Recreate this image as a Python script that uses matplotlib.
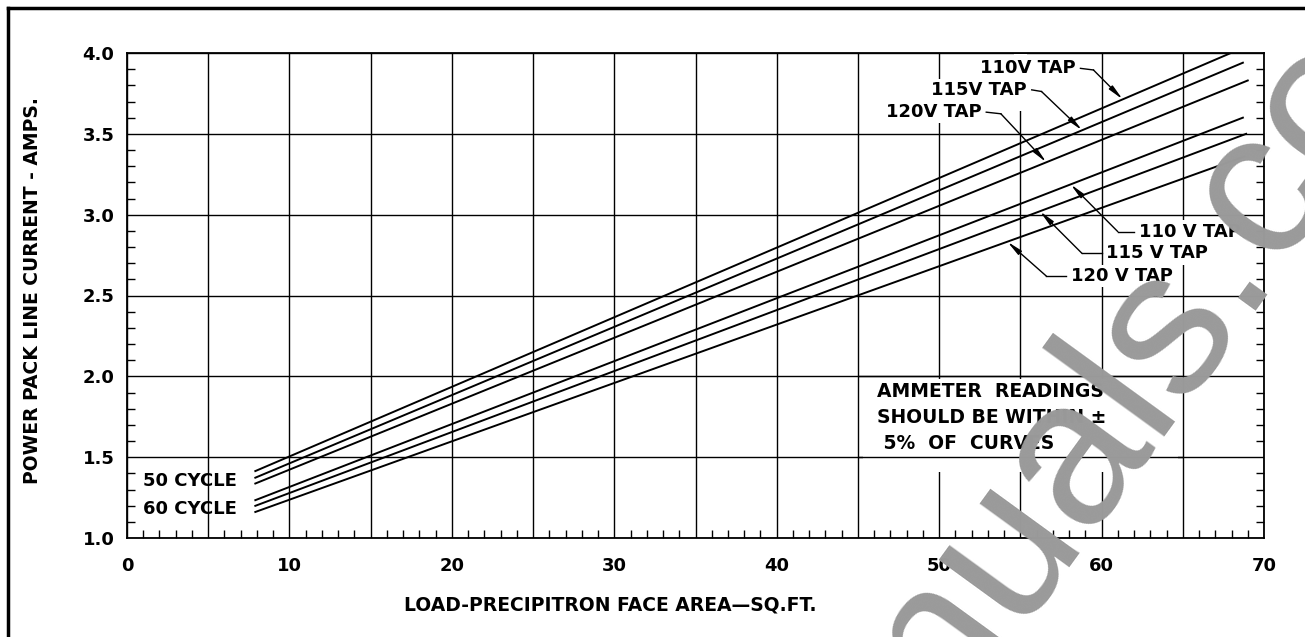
import numpy as np
import matplotlib
matplotlib.use('Agg')
import matplotlib.pyplot as plt
from matplotlib.ticker import MultipleLocator, FuncFormatter
from matplotlib.patches import Rectangle
from matplotlib.lines import Line2D

plt.rcParams['font.family'] = 'DejaVu Sans'
plt.rcParams['font.weight'] = 'bold'

# curve end points (face area sq.ft, amps)
x_start = [7.9, 7.9, 7.9]
x_end_50 = [68.1, 68.7, 69.0]
y_start_50 = [1.414, 1.373, 1.337]
y_end_50 = [4.006, 3.94, 3.83]
x_end_60 = [68.7, 68.9, 68.8]
y_start_60 = [1.234, 1.199, 1.161]
y_end_60 = [3.60, 3.50, 3.36]

taps_top = ['110V TAP', '115V TAP', '120V TAP']
taps_low = ['110 V TAP', '115 V TAP', '120 V TAP']

# label anchors (x of text end, y) and leader hit points on curves
top_text_x = [58.4, 55.4, 52.6]
top_text_y = [3.905, 3.772, 3.634]
top_elbow_x = [59.5, 56.3, 53.8]
top_hit_x = [61.3, 58.8, 56.6]

low_text_x = [62.3, 60.3, 58.1]
low_text_y = [2.895, 2.76, 2.62]
low_elbow_x = [61.0, 58.8, 56.6]
low_hit_x = [58.1, 56.2, 54.2]


def line_y(x, x0, y0, x1, y1):
    return y0 + (y1 - y0) * (x - x0) / (x1 - x0)


fig = plt.figure(figsize=(13.05, 6.37), dpi=100)
W, H = 1305, 637
ax = fig.add_axes([127 / W, 1 - 538 / H, (1264 - 127) / W, (538 - 53) / H])
ax.set_xlim(0, 70)
ax.set_ylim(1.0, 4.0)

ax.xaxis.set_major_locator(MultipleLocator(5))
ax.xaxis.set_minor_locator(MultipleLocator(1))
ax.yaxis.set_major_locator(MultipleLocator(0.5))
ax.yaxis.set_minor_locator(MultipleLocator(0.1))
ax.xaxis.set_major_formatter(FuncFormatter(lambda v, p: '%d' % v if round(v) % 10 == 0 else ''))
ax.yaxis.set_major_formatter(FuncFormatter(lambda v, p: '%.1f' % v))
ax.tick_params(which='major', length=0, labelsize=13)
ax.tick_params(axis='x', which='major', pad=14)
ax.tick_params(axis='y', which='major', pad=9)
ax.tick_params(which='minor', direction='in', length=6, width=1.0,
               left=True, right=True, bottom=True, top=False)
ax.grid(which='major', color='black', lw=1.0)
ax.set_axisbelow(True)
for s in ax.spines.values():
    s.set_linewidth(1.3)

# note box, covering the grid
ax.add_patch(Rectangle((45.3, 1.41), 19.4, 0.575, facecolor='white',
                       edgecolor='none', zorder=1))
ax.hlines([1.5, 2.0], 45, 65, colors='black', lw=1.0, zorder=2)
ax.text(46.2, 1.745, 'AMMETER  READINGS\nSHOULD BE WITHIN \u00b1\n 5%  OF  CURVES',
        fontsize=13.5, va='center', ha='left', linespacing=1.45, zorder=3)
# the 55 grid line is left out above the 120V label in the original
ax.add_patch(Rectangle((54.6, 3.64), 0.8, 0.355, facecolor='white',
                       edgecolor='none', zorder=1))

for i in range(3):
    ax.plot([x_start[i], x_end_50[i]], [y_start_50[i], y_end_50[i]], color='black', lw=1.4, zorder=4)
    ax.plot([x_start[i], x_end_60[i]], [y_start_60[i], y_end_60[i]], color='black', lw=1.4, zorder=4)

ax.text(1.0, 1.35, '50 CYCLE', fontsize=13, va='center', ha='left', zorder=5)
ax.text(1.0, 1.18, '60 CYCLE', fontsize=13, va='center', ha='left', zorder=5)

bb = dict(facecolor='white', edgecolor='none', pad=1.5)
arrow = dict(arrowstyle='-|>,head_length=0.9,head_width=0.15', color='black',
             lw=1.0, shrinkA=0, shrinkB=0)
for i in range(3):
    ax.text(top_text_x[i], top_text_y[i], taps_top[i], fontsize=13, ha='right',
            va='center', bbox=bb, zorder=6)
    hy = line_y(top_hit_x[i], x_start[i], y_start_50[i], x_end_50[i], y_end_50[i])
    ax.plot([top_text_x[i] + 0.3, top_elbow_x[i]], [top_text_y[i], top_text_y[i] - 0.01],
            color='black', lw=1.0, zorder=6)
    ax.annotate('', xy=(top_hit_x[i], hy), xytext=(top_elbow_x[i], top_text_y[i] - 0.01),
                arrowprops=arrow, zorder=6)

    ax.text(low_text_x[i], low_text_y[i], taps_low[i], fontsize=13, ha='left',
            va='center', bbox=bb, zorder=6)
    hy = line_y(low_hit_x[i], x_start[i], y_start_60[i], x_end_60[i], y_end_60[i])
    ax.plot([low_text_x[i] - 0.3, low_elbow_x[i]], [low_text_y[i], low_text_y[i]],
            color='black', lw=1.0, zorder=6)
    ax.annotate('', xy=(low_hit_x[i], hy), xytext=(low_elbow_x[i], low_text_y[i]),
                arrowprops=arrow, zorder=6)

fig.text(610 / W, 1 - 605 / H, 'LOAD-PRECIPITRON FACE AREA\u2014SQ.FT.', fontsize=13.5,
         ha='center', va='center')
fig.text(33 / W, 1 - 291 / H, 'POWER PACK LINE CURRENT - AMPS.', fontsize=13.5,
         ha='center', va='center', rotation=90)

# page frame
fig.add_artist(Line2D([8 / W, 8 / W], [0, 1 - 8 / H], color='black', lw=2.5))
fig.add_artist(Line2D([8 / W, 1], [1 - 8 / H, 1 - 8 / H], color='black', lw=2.5))

# watermark
fig.text(1274 / W, 1 - 267 / H, 'manuals.', fontsize=150, color='#9a9a9a',
         fontweight='normal', family='Liberation Sans', rotation=54,
         rotation_mode='anchor', ha='right', va='baseline', zorder=10)
fig.text(1274 / W, 1 - 267 / H, 'com', fontsize=150, color='#9a9a9a',
         fontweight='normal', family='Liberation Sans', rotation=54,
         rotation_mode='anchor', ha='left', va='baseline', zorder=10)

fig.savefig('out.png', dpi=100)
